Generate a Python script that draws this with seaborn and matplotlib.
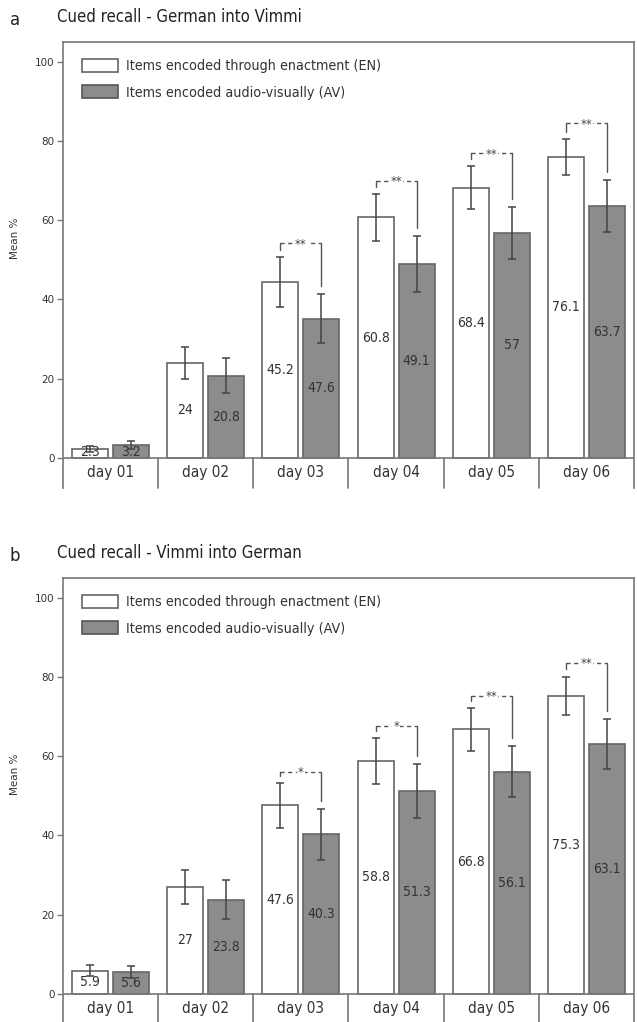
import matplotlib.pyplot as plt
import seaborn as sns
import pandas as pd
from matplotlib.patches import Patch

# categories and series
days = ['day 01', 'day 02', 'day 03', 'day 04', 'day 05', 'day 06']
groups = ['Items encoded through enactment (EN)', 'Items encoded audio-visually (AV)']

# panel a - Cued recall - German into Vimmi
a_en = [2.3, 24.0, 44.5, 60.7, 68.2, 76.0]
a_av = [3.2, 20.8, 35.1, 49.0, 56.8, 63.6]
a_en_err = [0.8, 4.0, 6.3, 6.0, 5.4, 4.6]
a_av_err = [1.0, 4.4, 6.2, 7.0, 6.5, 6.5]
a_en_lab = ['2.3', '24', '45.2', '60.8', '68.4', '76.1']
a_av_lab = ['3.2', '20.8', '47.6', '49.1', '57', '63.7']
a_sig = ['', '', '**', '**', '**', '**']
a_sig_y = [0, 0, 54.3, 70.0, 77.0, 84.5]

# panel b - Cued recall - Vimmi into German
b_en = [5.9, 27.0, 47.6, 58.8, 66.8, 75.3]
b_av = [5.6, 23.8, 40.3, 51.3, 56.1, 63.1]
b_en_err = [1.4, 4.3, 5.7, 5.7, 5.4, 4.8]
b_av_err = [1.5, 5.0, 6.5, 6.8, 6.5, 6.4]
b_en_lab = ['5.9', '27', '47.6', '58.8', '66.8', '75.3']
b_av_lab = ['5.6', '23.8', '40.3', '51.3', '56.1', '63.1']
b_sig = ['', '', '*', '*', '**', '**']
b_sig_y = [0, 0, 56.1, 67.7, 75.3, 83.6]

spine_c = '#777777'
text_c = '#333333'
grey = '#8c8c8c'
FONT = dict(family='DejaVu Sans', stretch='condensed')

sns.set_style('white')
plt.rcParams['font.family'] = ['DejaVu Sans']

fig = plt.figure(figsize=(6.37, 10.22), dpi=100)


def panel(ax, en, av, en_err, av_err, en_lab, av_lab, sig, sig_y, letter, title):
    df = pd.DataFrame({
        'day': days * 2,
        'group': [groups[0]] * len(days) + [groups[1]] * len(days),
        'value': en + av,
    })
    sns.barplot(data=df, x='day', y='value', hue='group', hue_order=groups,
                palette=['white', grey], edgecolor='#666666', linewidth=1.2,
                width=0.86, gap=0.12, errorbar=None, legend=False, ax=ax)

    ymin = -7.6
    ax.set_xlim(-0.5, 5.5)
    ax.set_ylim(ymin, 105)

    xs_en = [b.get_x() + b.get_width() / 2 for b in ax.containers[0]]
    xs_av = [b.get_x() + b.get_width() / 2 for b in ax.containers[1]]

    for xs, vals, errs in [(xs_en, en, en_err), (xs_av, av, av_err)]:
        ax.errorbar(xs, vals, yerr=errs, fmt='none', ecolor='#444444',
                    elinewidth=1.1, capsize=3, capthick=1.1, zorder=4)

    # value labels inside bars
    for xs, vals, labs in [(xs_en, en, en_lab), (xs_av, av, av_lab)]:
        for x, v, t in zip(xs, vals, labs):
            ax.text(x, max(v / 2, 1.6), t, ha='center', va='center',
                    fontsize=10, color=text_c, zorder=5, **FONT)

    # significance brackets
    for i, s in enumerate(sig):
        if not s:
            continue
        x1, x2, yb = xs_en[i], xs_av[i], sig_y[i]
        y1 = en[i] + en_err[i] + 1.8
        y2 = av[i] + av_err[i] + 2.0
        kw = dict(color='#555555', lw=1.0, zorder=4)
        ax.plot([x1, x1], [y1, yb], **kw)
        ax.plot([x2, x2], [y2, yb], **kw)
        ax.plot([x1, x2], [yb, yb], ls=(0, (3, 2.5)), **kw)
        ax.text((x1 + x2) / 2, yb - 0.3, s, ha='center', va='center',
                fontsize=8.5, color='#444444', zorder=5,
                bbox=dict(facecolor='white', edgecolor='none', pad=0.8))

    # axis line at zero and category separators
    ax.axhline(0, color=spine_c, lw=1.2, zorder=3)
    for k in range(1, len(days)):
        ax.plot([k - 0.5, k - 0.5], [ymin, 0], color=spine_c, lw=1.2, clip_on=False)
    for k, d in enumerate(days):
        ax.text(k, ymin / 2, d, ha='center', va='center', fontsize=11,
                color=text_c, **FONT)

    for side in ['left', 'right', 'top']:
        ax.spines[side].set_color(spine_c)
        ax.spines[side].set_linewidth(1.2)
    ax.spines['bottom'].set_visible(False)

    ax.set_xticks([])
    ax.set_yticks([0, 20, 40, 60, 80, 100])
    ax.tick_params(axis='y', direction='out', length=4, width=1, color=spine_c,
                   labelsize=7.5, labelcolor=text_c, left=True, pad=2)
    ax.set_xlabel('')
    ax.set_ylabel('Mean %', fontsize=7.5, color=text_c, labelpad=10)
    ax.yaxis.set_label_coords(-0.075, 0.56)

    handles = [Patch(facecolor='white', edgecolor='#666666', lw=1.2),
               Patch(facecolor=grey, edgecolor='#555555', lw=1.2)]
    leg = ax.legend(handles, groups, loc='upper left',
                    bbox_to_anchor=(19 / 571, 1 - 17 / 446),
                    borderaxespad=0, borderpad=0,
                    frameon=False, handlelength=2.5, handleheight=1.0,
                    handletextpad=0.6, labelspacing=0.85,
                    prop=dict(size=10.3, **FONT))
    for t in leg.get_texts():
        t.set_color(text_c)

    fig.text(0.015, ax.get_position().y1 + 22 / 1022, letter, fontsize=12,
             color='#222222', va='center', ha='left')
    fig.text(57 / 637, ax.get_position().y1 + 25 / 1022, title, fontsize=12,
             color='#222222', va='center', ha='left', **FONT)


ax_a = fig.add_axes([63 / 637, 1 - 488 / 1022, 571 / 637, 446 / 1022])
panel(ax_a, a_en, a_av, a_en_err, a_av_err, a_en_lab, a_av_lab, a_sig, a_sig_y,
      'a', 'Cued recall - German into Vimmi')

ax_b = fig.add_axes([63 / 637, 1 - 1024 / 1022, 571 / 637, 446 / 1022])
panel(ax_b, b_en, b_av, b_en_err, b_av_err, b_en_lab, b_av_lab, b_sig, b_sig_y,
      'b', 'Cued recall - Vimmi into German')

fig.savefig('out.png', dpi=100)
